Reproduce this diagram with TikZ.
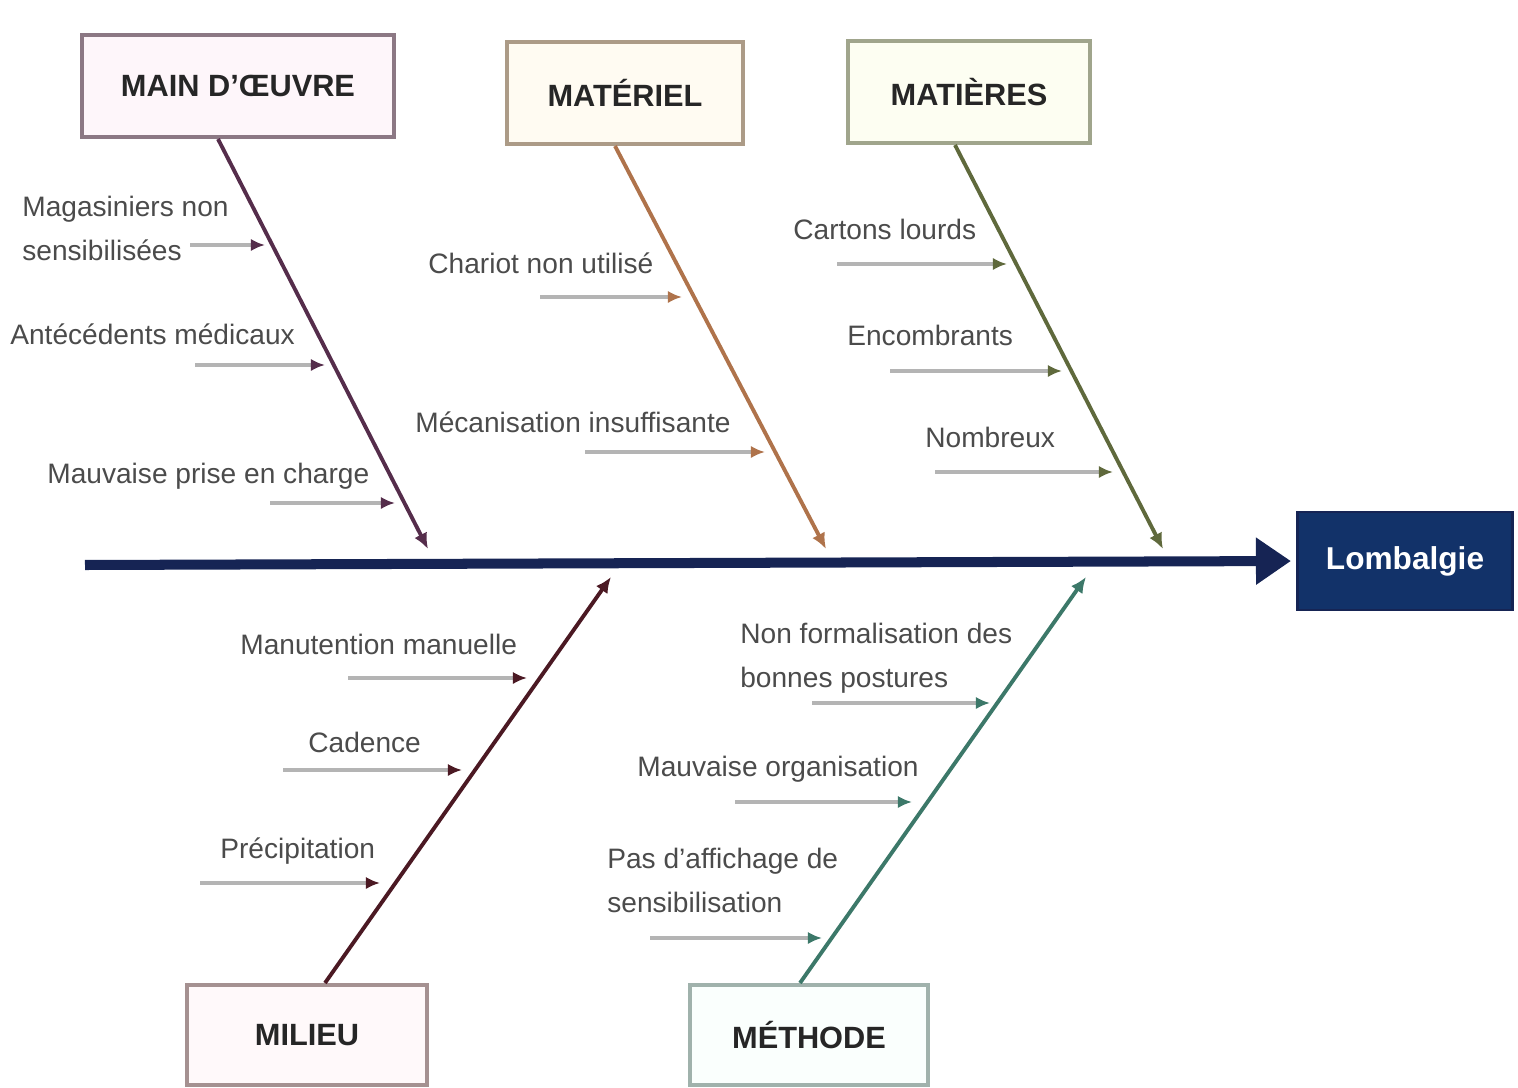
\documentclass[tikz,border=0pt]{standalone}
\usepackage{fontspec}
\setmainfont{Liberation Sans}
\usetikzlibrary{arrows.meta, positioning, calc}
\definecolor{spinenavy}{RGB}{22,36,84}
\definecolor{effectblue}{RGB}{18,50,105}
\definecolor{moline}{RGB}{85,45,75}
\definecolor{moborder}{RGB}{140,120,132}
\definecolor{mofill}{RGB}{254,246,250}
\definecolor{matline}{RGB}{175,115,75}
\definecolor{matborder}{RGB}{172,155,135}
\definecolor{matfill}{RGB}{255,251,242}
\definecolor{mpline}{RGB}{95,105,60}
\definecolor{mpborder}{RGB}{160,165,140}
\definecolor{mpfill}{RGB}{253,254,242}
\definecolor{miline}{RGB}{75,25,35}
\definecolor{miborder}{RGB}{165,145,145}
\definecolor{mifill}{RGB}{255,249,250}
\definecolor{meline}{RGB}{60,120,105}
\definecolor{meborder}{RGB}{160,178,172}
\definecolor{mefill}{RGB}{250,255,253}
\definecolor{causegray}{RGB}{180,180,180}
\definecolor{labelgray}{RGB}{75,75,75}

\begin{document}
\begin{tikzpicture}[
        x=0.02cm, y=-0.02cm,
        category/.style={rectangle, draw, line width=2.3pt, minimum height=2.04cm, font=\fontsize{17.5}{20}\selectfont\bfseries, text=black!85},
        cause/.style={anchor=base west, align=left, inner sep=0pt, text=labelgray, font=\fontsize{16}{24.5}\selectfont},
        bone/.style={line width=2.2pt, -{Latex[length=9pt, width=8pt]}},
        feed/.style={draw=causegray, line width=1.8pt, -{Latex[length=8pt, width=7pt, color=#1]}}
    ]
        \useasboundingbox (0,0) rectangle (1518,1088);

        \node[category, draw=moborder, fill=mofill, minimum width=6.26cm] (mo) at (238,86) {MAIN D'ŒUVRE};
        \node[category, draw=matborder, fill=matfill, minimum width=4.72cm] (mat) at (625,93) {MATÉRIEL};
        \node[category, draw=mpborder, fill=mpfill, minimum width=4.84cm] (mp) at (969,92) {MATIÈRES};
        \node[category, draw=miborder, fill=mifill, minimum width=4.8cm, minimum height=2cm] (mi) at (307,1035) {MILIEU};
        \node[category, draw=meborder, fill=mefill, minimum width=4.76cm, minimum height=2cm] (me) at (809,1035) {MÉTHODE};
        \node[rectangle, draw=spinenavy, fill=effectblue, line width=1.5pt, minimum width=4.3cm, minimum height=1.96cm, text=white, font=\fontsize{18}{20}\selectfont\bfseries] (effect) at (1405,561) {Lombalgie};

        \coordinate (tail) at (85,565);
        \draw[spinenavy, line width=5.7pt, -{Triangle[length=0.7cm, width=0.9cm]}, shorten >=3pt] (tail) -- (effect.west);

        \coordinate (moend) at (428,549);
        \coordinate (matend) at (826,549);
        \coordinate (mpend) at (1163,549);
        \coordinate (miend) at (611,577);
        \coordinate (meend) at (1086,577);
        \draw[bone, moline] ($(mo.south)+(-20,0)$) -- (moend);
        \draw[bone, matline] ($(mat.south)+(-10,0)$) -- (matend);
        \draw[bone, mpline] ($(mp.south)+(-14,0)$) -- (mpend);
        \draw[bone, miline] ($(mi.north)+(18,0)$) -- (miend);
        \draw[bone, meline] ($(me.north)+(-9,0)$) -- (meend);

        \node[cause] (mo1) at (22,260) {Magasiniers non\\sensibilisées};
        \node[cause] (mo2) at (10,344) {Antécédents médicaux};
        \node[cause] (mo3) at (47,483) {Mauvaise prise en charge};
        \node[cause] (mat1) at (428,273) {Chariot non utilisé};
        \node[cause] (mat2) at (415,432) {Mécanisation insuffisante};
        \node[cause] (mp1) at (793,239) {Cartons lourds};
        \node[cause] (mp2) at (847,345) {Encombrants};
        \node[cause] (mp3) at (925,447) {Nombreux};
        \node[cause] (mi1) at (240,654) {Manutention manuelle};
        \node[cause] (mi2) at (308,752) {Cadence};
        \node[cause] (mi3) at (220,858) {Précipitation};
        \node[cause] (me1) at (740,687) {Non formalisation des\\bonnes postures};
        \node[cause] (me2) at (637,776) {Mauvaise organisation};
        \node[cause] (me3) at (607,912) {Pas d'affichage de\\sensibilisation};

        \coordinate (mo1s) at (190,245);  \coordinate (mo1e) at (265,245);
        \coordinate (mo2s) at (195,365);  \coordinate (mo2e) at (325,365);
        \coordinate (mo3s) at (270,503);  \coordinate (mo3e) at (395,503);
        \coordinate (mat1s) at (540,297); \coordinate (mat1e) at (682,297);
        \coordinate (mat2s) at (585,452); \coordinate (mat2e) at (765,452);
        \coordinate (mp1s) at (837,264);  \coordinate (mp1e) at (1007,264);
        \coordinate (mp2s) at (890,371);  \coordinate (mp2e) at (1062,371);
        \coordinate (mp3s) at (935,472);  \coordinate (mp3e) at (1113,472);
        \coordinate (mi1s) at (348,678);  \coordinate (mi1e) at (527,678);
        \coordinate (mi2s) at (283,770);  \coordinate (mi2e) at (462,770);
        \coordinate (mi3s) at (200,883);  \coordinate (mi3e) at (380,883);
        \coordinate (me1s) at (812,703);  \coordinate (me1e) at (990,703);
        \coordinate (me2s) at (735,802);  \coordinate (me2e) at (912,802);
        \coordinate (me3s) at (650,938);  \coordinate (me3e) at (822,938);

        \draw[feed=moline] (mo1s) -- (mo1e);
        \draw[feed=moline] (mo2s) -- (mo2e);
        \draw[feed=moline] (mo3s) -- (mo3e);
        \draw[feed=matline] (mat1s) -- (mat1e);
        \draw[feed=matline] (mat2s) -- (mat2e);
        \draw[feed=mpline] (mp1s) -- (mp1e);
        \draw[feed=mpline] (mp2s) -- (mp2e);
        \draw[feed=mpline] (mp3s) -- (mp3e);
        \draw[feed=miline] (mi1s) -- (mi1e);
        \draw[feed=miline] (mi2s) -- (mi2e);
        \draw[feed=miline] (mi3s) -- (mi3e);
        \draw[feed=meline] (me1s) -- (me1e);
        \draw[feed=meline] (me2s) -- (me2e);
        \draw[feed=meline] (me3s) -- (me3e);
    \end{tikzpicture}
\end{document}
